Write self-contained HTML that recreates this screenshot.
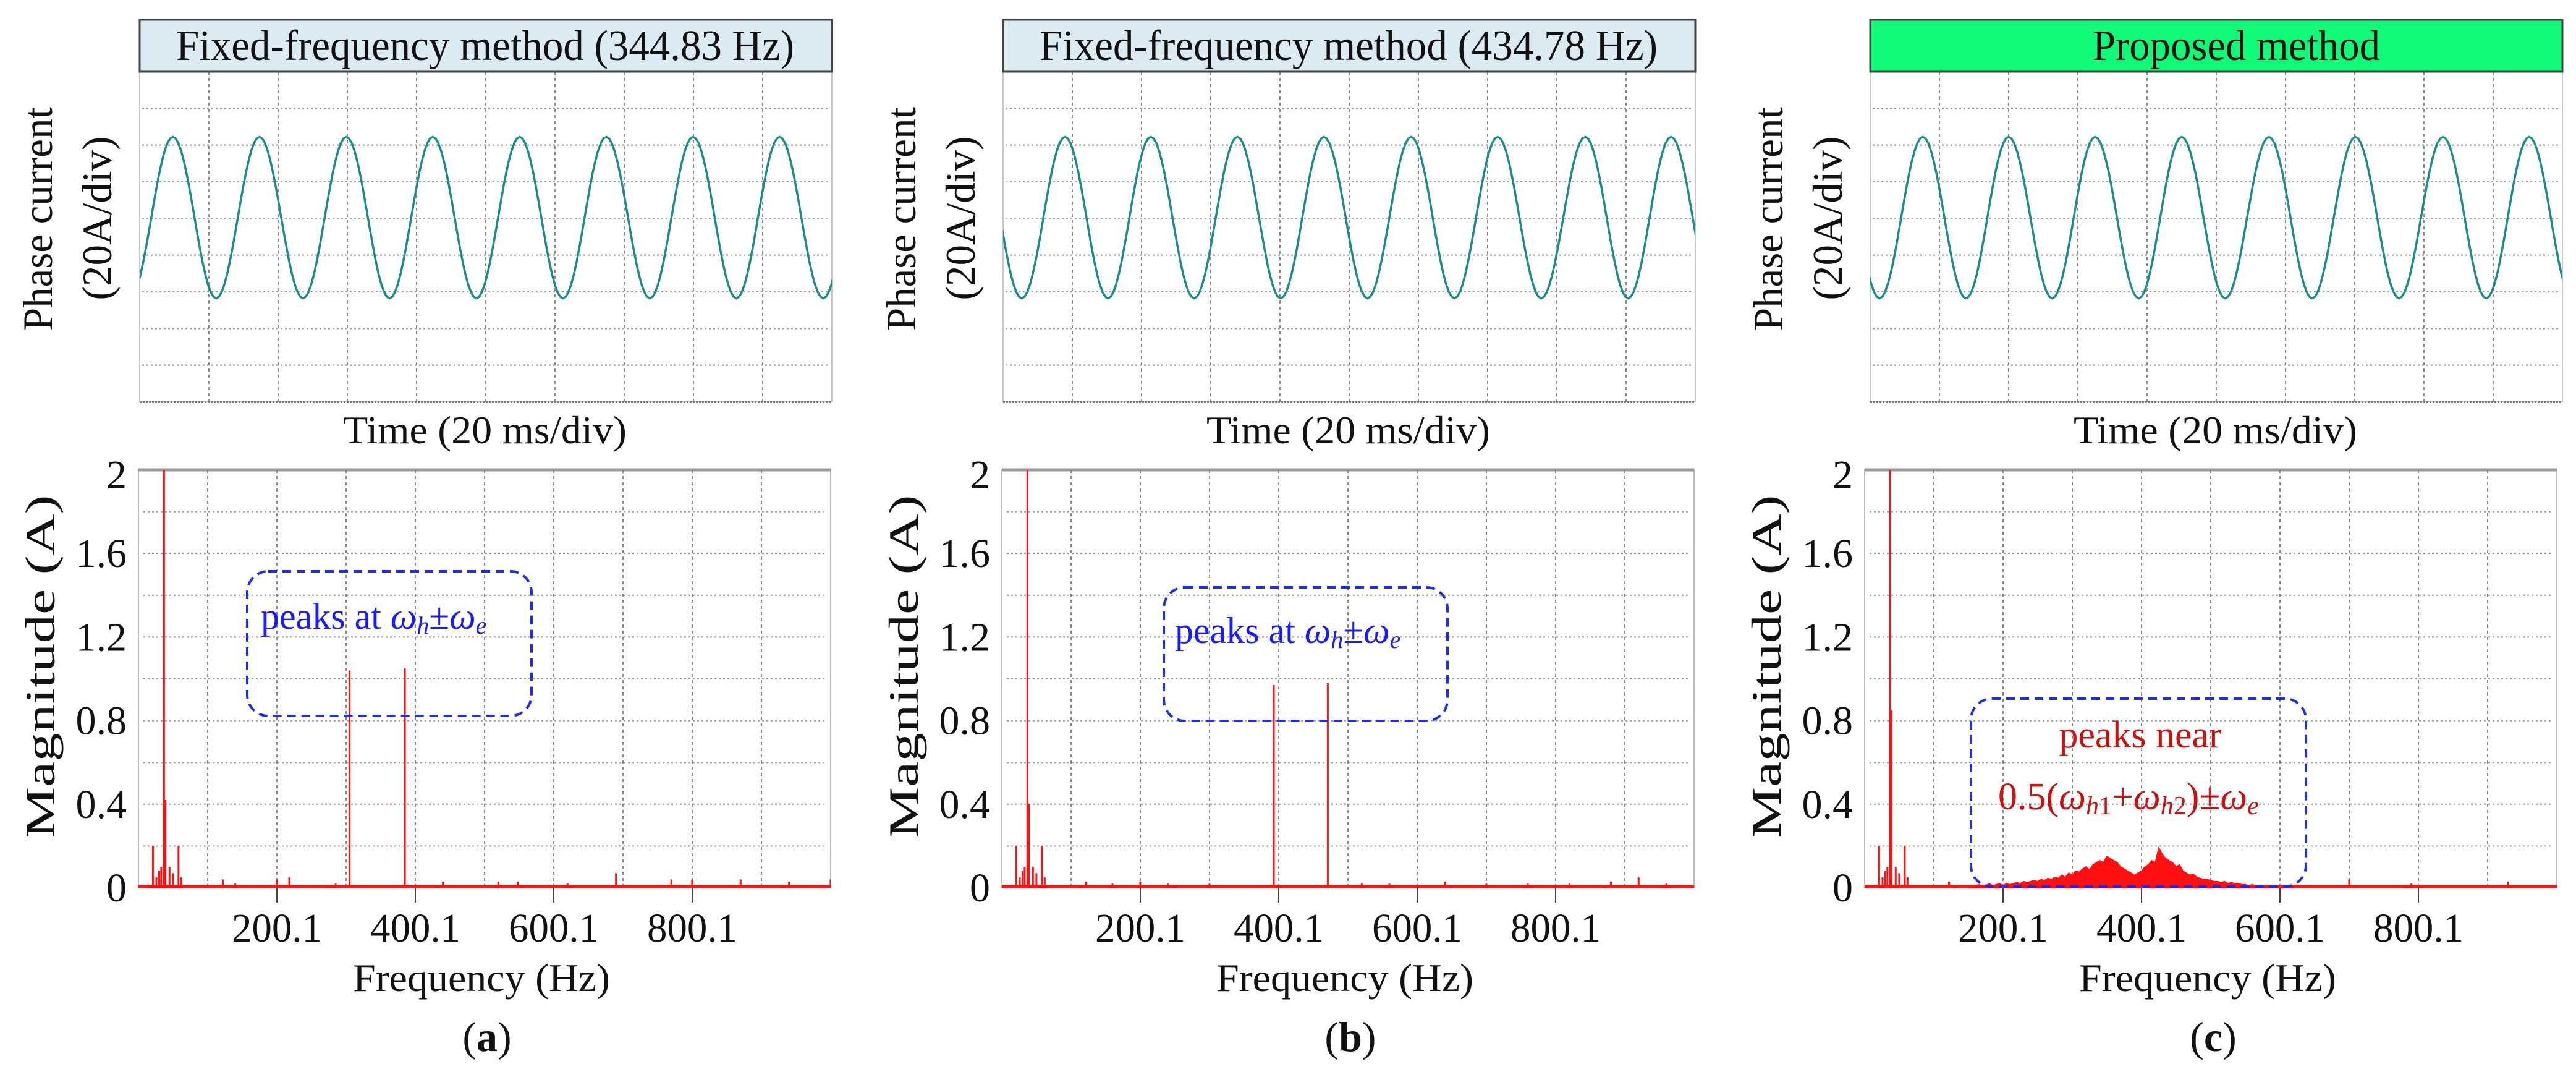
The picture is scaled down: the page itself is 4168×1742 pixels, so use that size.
<!DOCTYPE html>
<html><head><meta charset="utf-8"><style>
html,body{margin:0;padding:0;background:#fff;}
svg, svg text{font-family:"Liberation Serif","DejaVu Serif",serif;}
</style></head><body>
<svg id="fig" width="4168" height="1737" viewBox="0 0 4168 1737" xmlns="http://www.w3.org/2000/svg" font-family="'Liberation Serif', 'DejaVu Serif', serif">
<defs>
<clipPath id="clipTop0"><rect x="226" y="116" width="1120" height="534"/></clipPath>
<clipPath id="clipTop1"><rect x="1623" y="116" width="1120" height="534"/></clipPath>
<clipPath id="clipTop2"><rect x="3026" y="116" width="1120" height="534"/></clipPath>
<clipPath id="clipBot0"><rect x="224" y="760" width="1120" height="700"/></clipPath>
<clipPath id="clipBot1"><rect x="1621" y="760" width="1120" height="700"/></clipPath>
<clipPath id="clipBot2"><rect x="3017" y="760" width="1120" height="700"/></clipPath>
</defs>
</svg>
<script>
// ---- data ----
const panelTitles = ["Fixed-frequency method (344.83 Hz)", "Fixed-frequency method (434.78 Hz)", "Proposed method"];
const panelLetters = ["a", "b", "c"];
const waveTimesA = [-2.9, 9.6, 22.1, 34.6, 47.2, 59.7, 72.2, 84.7, 97.3, 109.8, 122.3, 134.8, 147.4, 159.9, 172.4, 184.9, 197.5, 210.0];
const waveValsA  = [-44, 44, -44, 44, -44, 44, -44, 44, -44, 44, -44, 44, -44, 44, -44, 44, -44, 44];
const waveTimesB = [-7.1, 5.4, 17.9, 30.3, 42.7, 55.2, 67.7, 80.2, 92.7, 105.3, 117.9, 130.4, 142.9, 155.5, 168.2, 180.6, 193.0, 205.5];
const waveValsB  = [44, -44, 44, -44, 44, -44, 44, -44, 44, -44, 44, -44, 44, -44, 44, -44, 44, -44];
const waveTimesC = [-9.8, 2.7, 15.2, 27.7, 40.0, 52.6, 65.0, 77.6, 90.0, 102.6, 115.2, 127.7, 140.2, 152.8, 165.5, 178.0, 190.4, 202.9];
const waveValsC  = [44, -44, 44, -44, 44, -44, 44, -44, 44, -44, 44, -44, 44, -44, 44, -44, 44, -44];
const spikeFreqA = [21, 26, 30, 33, 37, 39, 45, 50, 58, 62, 80, 122, 140, 160, 200, 218, 258, 285, 305, 385, 440, 520, 548, 620, 690, 735, 770, 800, 870, 902, 940, 1000];
const spikeMagA  = [0.2, 0.05, 0.08, 0.1, 2.3, 0.42, 0.1, 0.07, 0.2, 0.05, 0.01, 0.04, 0.02, 0.01, 0.04, 0.05, 0.01, 0.02, 1.04, 1.05, 0.03, 0.03, 0.03, 0.02, 0.07, 0.01, 0.04, 0.04, 0.04, 0.01, 0.03, 0.04];
const spikeFreqB = [21, 26, 30, 33, 37, 39, 45, 50, 58, 62, 122, 160, 200, 240, 300, 393, 471, 520, 560, 640, 700, 760, 820, 880, 920, 960];
const spikeMagB  = [0.2, 0.05, 0.08, 0.1, 2.3, 0.4, 0.1, 0.07, 0.2, 0.05, 0.03, 0.02, 0.03, 0.02, 0.02, 0.97, 0.98, 0.02, 0.02, 0.03, 0.02, 0.02, 0.02, 0.03, 0.05, 0.02];
const spikeFreqC = [21, 26, 30, 33, 37, 39, 45, 50, 58, 62, 122, 700, 790, 930];
const spikeMagC  = [0.2, 0.05, 0.08, 0.1, 2.3, 0.85, 0.1, 0.07, 0.2, 0.05, 0.03, 0.04, 0.02, 0.03];
const humpStartC = 150;
const humpStepC = 5;
const humpMagC = [0.01,0.005,0.01,0.015,0.01,0.01,0.02,0.01,0.015,0.02,0.01,0.02,0.015,0.02,0.025,0.02,0.03,0.025,0.03,0.035,
 0.03,0.04,0.035,0.045,0.04,0.05,0.045,0.06,0.05,0.07,0.06,0.08,0.075,0.09,0.1,0.085,0.11,0.12,0.13,0.12,
 0.15,0.14,0.13,0.12,0.1,0.09,0.08,0.07,0.06,0.07,0.08,0.1,0.11,0.13,0.12,0.19,0.16,0.14,0.13,0.12,
 0.1,0.11,0.08,0.07,0.06,0.065,0.05,0.045,0.04,0.04,0.035,0.03,0.03,0.025,0.03,0.02,0.025,0.02,0.02,0.015,
 0.015,0.01,0.015,0.01,0.01,0.008,0.01,0.006,0.008,0.005,0.006,0.005,0.004,0.005,0.004];
const yTickVals = [0, 0.4, 0.8, 1.2, 1.6, 2];
const yTickLabels = ["0", "0.4", "0.8", "1.2", "1.6", "2"];
const xTickVals = [200.1, 400.1, 600.1, 800.1];
const xTickLabels = ["200.1", "400.1", "600.1", "800.1"];

// ---- layout ----
const NS = "http://www.w3.org/2000/svg";
const svg = document.getElementById("fig");
const FONT = "'Liberation Serif', 'DejaVu Serif', serif";
const topLefts = [226, 1623, 3026];
const botLefts = [224, 1621, 3017];
const W = 1120, TOPY = 116, TOPB = 650, BOTTOP = 760, ZEROY = 1436;
const waveT = [waveTimesA, waveTimesB, waveTimesC];
const waveV = [waveValsA, waveValsB, waveValsC];
const spF = [spikeFreqA, spikeFreqB, spikeFreqC];
const spM = [spikeMagA, spikeMagB, spikeMagC];

function mk(tag, attrs, parent) {
  const e = document.createElementNS(NS, tag);
  for (const k in attrs) e.setAttribute(k, attrs[k]);
  if (tag === "text") e.setAttribute("font-family", FONT);
  (parent || svg).appendChild(e);
  return e;
}
function txt(str, attrs, parent) {
  const e = mk("text", attrs, parent);
  e.textContent = str;
  return e;
}

for (let p = 0; p < 3; p++) {
  const L = topLefts[p];
  const B = botLefts[p];
  const g = mk("g", {});
  
  

  const tX = t => L + t * (W / 200);
  const tY = v => 352 - v * (59.33 / 20);
  const scope = mk("g", {}, g);
  
  
  mk("rect", {x: L, y: TOPY, width: W, height: TOPB - TOPY, fill: "#fff", stroke: "#c8c8c8", "stroke-width": 2}, scope);
  for (let i = 1; i < 10; i++) {
    const gl = mk("line", {x1: L + i * 112, x2: L + i * 112, y1: TOPY, y2: TOPB, stroke: "#888", "stroke-width": 2, "stroke-dasharray": "5 5"}, scope);
    
    
  }
  for (let j = 1; j < 9; j++) {
    const y = TOPY + j * (TOPB - TOPY) / 9;
    const gl = mk("line", {x1: L + 4, x2: L + W - 4, y1: y, y2: y, stroke: "#999", "stroke-width": 2, "stroke-dasharray": "3 4"}, scope);
    
    
  }
  mk("line", {x1: L, x2: L + W, y1: TOPB, y2: TOPB, stroke: "#777", "stroke-width": 4, "stroke-dasharray": "3 2"}, scope);
  const ts = waveT[p], vs = waveV[p];
  let pts = [];
  for (let k = 0; k < ts.length - 1; k++) {
    for (let s = 0; s < 16; s++) {
      const f = s / 16;
      const t = ts[k] + (ts[k + 1] - ts[k]) * f;
      const v = (vs[k] + vs[k + 1]) / 2 + (vs[k] - vs[k + 1]) / 2 * Math.cos(Math.PI * f);
      pts.push(tX(t).toFixed(1) + "," + tY(v).toFixed(1));
    }
  }
  const wave = mk("polyline", {points: pts.join(" "), fill: "none", stroke: "#1b8d88", "stroke-width": 3.5, "clip-path": "url(#clipTop" + p + ")"}, scope);
  
  

  const tb = mk("rect", {x: L, y: 32, width: W, height: 84, fill: p === 2 ? "#10fa78" : "#dcebf2", stroke: "#444", "stroke-width": 3}, g);
  
  
  const tt = txt(panelTitles[p], {x: p === 2 ? L + 360 : L + 59, y: 97, "font-size": 70, fill: "#111", textLength: p === 2 ? 465 : 1000, lengthAdjust: "spacingAndGlyphs"}, g);
  
  

  const yl1 = txt("Phase current", {x: 0, y: 0, "font-size": 68, fill: "#111", "text-anchor": "middle", textLength: 362, lengthAdjust: "spacingAndGlyphs", transform: "translate(" + (L - 142) + ",354) rotate(-90)"}, g);
  
  
  const yl2 = txt("(20A/div)", {x: 0, y: 0, "font-size": 68, fill: "#111", "text-anchor": "middle", textLength: 265, lengthAdjust: "spacingAndGlyphs", transform: "translate(" + (L - 46) + ",353) rotate(-90)"}, g);
  
  
  const xl = txt("Time (20 ms/div)", {x: L + 329, y: 717, "font-size": 64, fill: "#111", textLength: 459, lengthAdjust: "spacingAndGlyphs"}, g);
  
  

  const fX = f => B + (f - 0.1) * (W / 1000);
  const mY = m => ZEROY - m * ((ZEROY - BOTTOP) / 2);
  const spec = mk("g", {}, g);
  
  
  mk("rect", {x: B, y: BOTTOP, width: W, height: ZEROY - BOTTOP, fill: "#fff", stroke: "#bbb", "stroke-width": 2}, spec);
  mk("line", {x1: B, x2: B + W, y1: BOTTOP, y2: BOTTOP, stroke: "#999", "stroke-width": 5}, spec);
  for (let i = 1; i < 10; i++) {
    const x = fX(0.1 + i * 100);
    const gl = mk("line", {x1: x, x2: x, y1: BOTTOP, y2: ZEROY, stroke: "#888", "stroke-width": 2, "stroke-dasharray": "5 5"}, spec);
    
    
  }
  for (let j = 1; j < 10; j++) {
    const y = mY(j * 0.2);
    const gl = mk("line", {x1: B + 8, x2: B + W - 8, y1: y, y2: y, stroke: "#999", "stroke-width": 2, "stroke-dasharray": "3 4"}, spec);
    
    
  }
  for (let i = 0; i < yTickVals.length; i++) {
    const t = txt(yTickLabels[i], {x: B - 19, y: mY(yTickVals[i]) + (i === yTickVals.length - 1 ? 30 : 22), "font-size": 66, fill: "#111", "text-anchor": "end"}, spec);
    
    
  }
  for (let i = 0; i < xTickVals.length; i++) {
    const x = fX(xTickVals[i]);
    const tk = mk("line", {x1: x, x2: x, y1: ZEROY, y2: ZEROY + 24, stroke: "#444", "stroke-width": 2}, spec);
    
    
    const t = txt(xTickLabels[i], {x: x, y: 1523, "font-size": 66, fill: "#111", "text-anchor": "middle", textLength: 146, lengthAdjust: "spacingAndGlyphs"}, spec);
    
    
  }
  const series = mk("g", {"clip-path": "url(#clipBot" + p + ")"}, spec);
  
  
  if (p === 2) {
    let hp = [fX(humpStartC).toFixed(1) + "," + ZEROY];
    for (let k = 0; k < humpMagC.length; k++) {
      const f = humpStartC + k * humpStepC;
      hp.push(fX(f).toFixed(1) + "," + mY(humpMagC[k]).toFixed(1));
    }
    hp.push(fX(humpStartC + (humpMagC.length - 1) * humpStepC).toFixed(1) + "," + ZEROY);
    const hump = mk("polygon", {points: hp.join(" "), fill: "#ff1010", stroke: "#ff1010", "stroke-width": 2}, series);
    
    
  }
  const fs = spF[p], ms = spM[p];
  for (let k = 0; k < fs.length; k++) {
    const x = fX(fs[k]);
    const sp = mk("line", {x1: x, x2: x, y1: ZEROY, y2: mY(ms[k]), stroke: "#ff1010", "stroke-width": 3}, series);
    
    
  }
  const base = mk("line", {x1: B, x2: B + W, y1: ZEROY - 2, y2: ZEROY - 2, stroke: "#ff1010", "stroke-width": 5}, series);
  
  

  const myl = txt("Magnitude (A)", {x: 0, y: 0, "font-size": 68, fill: "#111", "text-anchor": "middle", textLength: 555, lengthAdjust: "spacingAndGlyphs", transform: "translate(" + (B - 136) + ",1078) rotate(-90)"}, g);
  
  
  const mxl = txt("Frequency (Hz)", {x: B + 347, y: 1603, "font-size": 64, fill: "#111", textLength: 416, lengthAdjust: "spacingAndGlyphs"}, g);
  
  
  const cap = mk("text", {x: B + 564, y: 1700, "font-size": 68, fill: "#111", "text-anchor": "middle"}, g);
  cap.innerHTML = '(<tspan font-weight="bold">' + panelLetters[p] + '</tspan>)';
  
  

  const boxes = [[176, 924, 460, 234], [262, 950, 459, 216], [172, 1130, 542, 304]];
  const bx = boxes[p];
  const ab = mk("rect", {x: B + bx[0], y: bx[1], width: bx[2], height: bx[3], rx: 34, fill: "none", stroke: "#1e2cf0", "stroke-width": 4, "stroke-dasharray": "14 9"}, g);
  
  
  if (p < 2) {
    const at = mk("text", {x: B + (p === 0 ? 198 : 280), y: p === 0 ? 1017 : 1040, "font-size": 60, fill: "#1a1aff"}, g);
    at.innerHTML = 'peaks at <tspan font-style="italic">ω</tspan><tspan font-style="italic" font-size="40" dy="8">h</tspan><tspan dy="-8">±</tspan><tspan font-style="italic">ω</tspan><tspan font-style="italic" font-size="40" dy="8">e</tspan>';
    
    
  } else {
    const a1 = txt("peaks near", {x: B + 446, y: 1209, "font-size": 62, fill: "#cc1111", "text-anchor": "middle"}, g);
    
    
    const a2 = mk("text", {x: B + 216, y: 1309, "font-size": 62, fill: "#cc1111"}, g);
    a2.innerHTML = '0.5(<tspan font-style="italic">ω</tspan><tspan font-style="italic" font-size="42" dy="8">h</tspan><tspan font-size="42">1</tspan><tspan dy="-8">+</tspan><tspan font-style="italic">ω</tspan><tspan font-style="italic" font-size="42" dy="8">h</tspan><tspan font-size="42">2</tspan><tspan dy="-8">)±</tspan><tspan font-style="italic">ω</tspan><tspan font-style="italic" font-size="42" dy="8">e</tspan>';
    
    
  }
}
</script>
</body></html>
